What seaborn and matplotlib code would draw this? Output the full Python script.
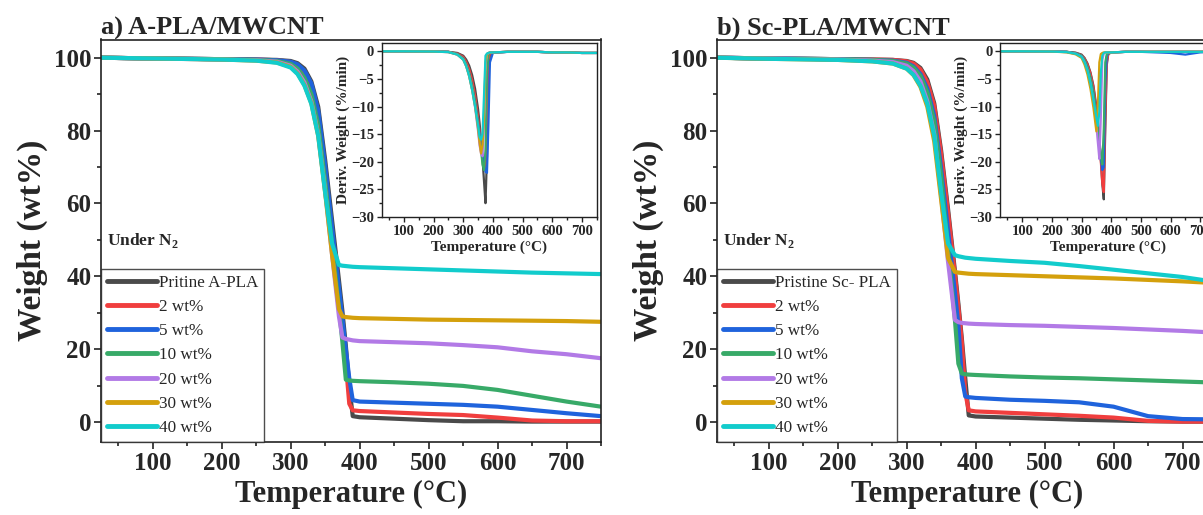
import pandas as pd
import matplotlib
matplotlib.use('Agg')
import matplotlib.pyplot as plt
import seaborn as sns
from matplotlib.lines import Line2D
from matplotlib.ticker import MultipleLocator

# TGA curves (weight %) on a shared temperature grid
T_TGA = [25, 100, 200, 250, 280, 300, 310, 320, 330, 340, 350, 360, 370, 375, 380, 385, 390, 400, 450, 500, 550, 600, 650, 700, 750]

a_pristine = [100, 99.8, 99.6, 99.5, 99.4, 99.1, 98.5, 97.0, 93.5, 86.5, 72.0, 55.5, 39.0, 30.5, 21.0, 10.0, 1.6, 1.3, 0.9, 0.5, 0.2, 0.2, 0.1, 0.1, 0.1]
a_2 = [100, 99.8, 99.6, 99.5, 99.3, 98.8, 97.9, 95.8, 91.5, 83.5, 68.0, 51.0, 34.5, 25.5, 16.0, 5.0, 3.2, 3.0, 2.6, 2.2, 1.9, 1.2, 0.4, 0.2, 0.2]
a_5 = [100, 99.8, 99.6, 99.5, 99.3, 98.9, 98.2, 96.5, 93.0, 85.5, 70.5, 53.5, 37.0, 28.5, 20.0, 12.0, 6.0, 5.6, 5.3, 5.0, 4.7, 4.2, 3.3, 2.4, 1.6]
a_10 = [100, 99.8, 99.6, 99.4, 99.1, 98.3, 97.0, 94.5, 90.0, 81.5, 66.0, 49.0, 31.5, 22.0, 11.6, 11.4, 11.3, 11.2, 10.9, 10.5, 9.9, 8.8, 7.2, 5.6, 4.2]
a_20 = [100, 99.8, 99.5, 99.3, 98.9, 97.8, 96.2, 93.2, 88.0, 79.0, 63.5, 46.0, 29.0, 23.2, 22.8, 22.6, 22.4, 22.2, 21.9, 21.6, 21.1, 20.5, 19.4, 18.6, 17.5]
a_30 = [100, 99.8, 99.5, 99.2, 98.7, 97.5, 95.7, 92.5, 87.5, 78.5, 63.0, 46.0, 31.0, 29.0, 28.8, 28.7, 28.6, 28.5, 28.3, 28.1, 28.0, 27.9, 27.8, 27.7, 27.5]
a_40 = [100, 99.8, 99.5, 99.2, 98.6, 97.3, 95.5, 92.3, 87.3, 78.5, 63.0, 49.0, 43.1, 42.9, 42.8, 42.7, 42.6, 42.5, 42.2, 41.9, 41.6, 41.3, 41.0, 40.8, 40.6]

b_pristine = [100, 99.8, 99.6, 99.5, 99.4, 99.1, 98.6, 97.2, 94.0, 87.5, 74.5, 58.5, 41.5, 32.5, 23.0, 12.0, 1.8, 1.5, 1.2, 0.9, 0.6, 0.4, 0.2, 0.1, 0.1]
b_2 = [100, 99.8, 99.6, 99.5, 99.4, 99.0, 98.4, 96.8, 93.3, 86.8, 73.5, 57.5, 40.5, 31.5, 22.0, 8.0, 3.2, 2.9, 2.5, 2.1, 1.7, 1.2, 0.3, 0.1, 0.1]
b_5 = [100, 99.8, 99.6, 99.4, 99.2, 98.6, 97.6, 95.5, 91.5, 84.0, 69.5, 52.5, 35.5, 26.5, 12.0, 7.0, 6.8, 6.6, 6.1, 5.8, 5.4, 4.2, 1.6, 0.8, 0.7]
b_10 = [100, 99.8, 99.6, 99.4, 99.1, 98.4, 97.3, 95.0, 90.5, 82.5, 67.5, 48.0, 28.0, 16.0, 13.3, 13.1, 13.0, 12.9, 12.5, 12.2, 12.0, 11.7, 11.4, 11.1, 10.8]
b_20 = [100, 99.8, 99.5, 99.2, 98.8, 97.8, 96.3, 93.5, 88.0, 79.0, 62.0, 44.0, 28.0, 27.4, 27.2, 27.1, 27.0, 26.9, 26.6, 26.4, 26.1, 25.8, 25.4, 25.0, 24.5]
b_30 = [100, 99.7, 99.4, 99.0, 98.4, 97.0, 95.2, 92.0, 86.5, 77.0, 61.0, 45.0, 41.2, 41.0, 40.9, 40.8, 40.7, 40.6, 40.3, 40.0, 39.7, 39.4, 39.0, 38.6, 38.1]
b_40 = [100, 99.7, 99.4, 99.0, 98.4, 97.0, 95.3, 92.3, 87.3, 78.5, 63.0, 49.0, 45.8, 45.5, 45.3, 45.1, 45.0, 44.8, 44.2, 43.7, 42.8, 41.8, 40.8, 39.8, 38.4]

# DTG curves (%/min) for the insets
T_DTG = [25, 100, 200, 250, 280, 300, 310, 320, 330, 340, 350, 355, 360, 365, 370, 375, 380, 385, 390, 400, 450, 500, 550, 600, 650, 700, 750]

da_pristine = [0, 0, -0.05, -0.1, -0.3, -0.8, -1.5, -2.6, -4.3, -6.8, -10.5, -13.0, -16.0, -19.5, -23.5, -27.5, -19.0, -4.0, -0.6, -0.2, -0.1, -0.1, -0.1, -0.2, -0.2, -0.3, -0.3]
da_2 = [0, 0, -0.05, -0.1, -0.4, -1.0, -1.9, -3.2, -5.2, -8.0, -12.0, -14.5, -17.0, -19.5, -20.5, -21.0, -12.0, -1.5, -0.4, -0.2, -0.1, -0.1, -0.1, -0.2, -0.2, -0.3, -0.3]
da_5 = [0, 0, -0.05, -0.1, -0.5, -1.3, -2.4, -4.0, -6.3, -9.2, -13.0, -15.0, -17.0, -19.0, -20.5, -21.8, -22.0, -13.0, -2.0, -0.3, -0.1, -0.1, -0.1, -0.2, -0.2, -0.3, -0.3]
da_10 = [0, 0, -0.05, -0.1, -0.5, -1.3, -2.4, -4.0, -6.3, -9.3, -13.2, -15.5, -18.0, -20.5, -21.5, -18.0, -4.0, -0.5, -0.3, -0.2, -0.1, -0.1, -0.1, -0.2, -0.2, -0.3, -0.3]
da_20 = [0, 0, -0.05, -0.15, -0.6, -1.5, -2.7, -4.5, -7.0, -10.2, -14.5, -17.0, -18.5, -19.0, -13.0, -2.5, -0.6, -0.3, -0.2, -0.2, -0.1, -0.1, -0.1, -0.2, -0.2, -0.3, -0.3]
da_30 = [0, 0, -0.05, -0.15, -0.6, -1.5, -2.7, -4.5, -7.0, -10.0, -14.0, -16.5, -18.5, -17.0, -12.0, -2.0, -0.5, -0.3, -0.2, -0.2, -0.1, -0.1, -0.1, -0.2, -0.2, -0.3, -0.3]
da_40 = [0, 0, -0.05, -0.15, -0.6, -1.5, -2.7, -4.5, -7.0, -10.0, -13.5, -15.5, -16.0, -15.0, -8.0, -0.8, -0.4, -0.3, -0.2, -0.2, -0.1, -0.1, -0.1, -0.2, -0.2, -0.3, -0.3]

db_pristine = [0, 0, -0.05, -0.1, -0.25, -0.6, -1.2, -2.2, -3.8, -6.2, -10.0, -12.5, -15.5, -19.5, -24.0, -26.8, -14.0, -2.5, -0.5, -0.2, -0.1, -0.1, -0.1, -0.1, -0.1, -0.1, -0.1]
db_2 = [0, 0, -0.05, -0.1, -0.3, -0.7, -1.3, -2.4, -4.0, -6.5, -10.5, -13.0, -16.0, -20.0, -24.0, -25.5, -12.0, -2.0, -0.5, -0.2, -0.1, -0.1, -0.1, -0.1, -0.1, -0.1, -0.1]
db_5 = [0, 0, -0.05, -0.1, -0.35, -0.8, -1.6, -2.9, -4.8, -7.5, -11.5, -14.0, -16.5, -19.5, -21.5, -21.0, -6.0, -1.0, -0.3, -0.2, -0.1, -0.1, -0.2, -0.3, -0.6, -0.2, -0.1]
db_10 = [0, 0, -0.05, -0.1, -0.35, -0.8, -1.6, -2.9, -4.8, -7.5, -11.5, -14.0, -16.5, -19.0, -20.5, -14.0, -2.0, -0.5, -0.3, -0.2, -0.1, -0.1, -0.1, -0.1, -0.1, -0.1, -0.1]
db_20 = [0, 0, -0.05, -0.15, -0.45, -1.0, -2.0, -3.5, -5.8, -9.0, -13.5, -16.5, -19.5, -12.0, -1.5, -0.4, -0.2, -0.2, -0.2, -0.2, -0.1, -0.1, -0.1, -0.1, -0.1, -0.1, -0.1]
db_30 = [0, 0, -0.05, -0.2, -0.55, -1.2, -2.4, -4.2, -6.8, -10.2, -14.5, -10.0, -2.0, -0.5, -0.3, -0.2, -0.2, -0.2, -0.2, -0.2, -0.1, -0.1, -0.1, -0.1, -0.1, -0.1, -0.1]
db_40 = [0, 0, -0.05, -0.15, -0.45, -1.0, -2.0, -3.5, -5.8, -8.8, -12.0, -13.5, -11.0, -4.0, -0.8, -0.3, -0.2, -0.2, -0.2, -0.2, -0.1, -0.1, -0.1, -0.1, -0.1, -0.1, -0.1]

labels_a = ['Pritine A-PLA', '2 wt%', '5 wt%', '10 wt%', '20 wt%', '30 wt%', '40 wt%']
labels_b = ['Pristine Sc- PLA', '2 wt%', '5 wt%', '10 wt%', '20 wt%', '30 wt%', '40 wt%']
colors = ['#4a4a4a', '#f03e3e', '#1f63dc', '#38aa68', '#b27ae6', '#d4a00c', '#12cccc']

tga_a = [a_pristine, a_2, a_5, a_10, a_20, a_30, a_40]
tga_b = [b_pristine, b_2, b_5, b_10, b_20, b_30, b_40]
dtg_a = [da_pristine, da_2, da_5, da_10, da_20, da_30, da_40]
dtg_b = [db_pristine, db_2, db_5, db_10, db_20, db_30, db_40]

sns.set_theme(style='ticks')
plt.rcParams['font.family'] = ['Liberation Serif', 'DejaVu Serif']
plt.rcParams['mathtext.fontset'] = 'custom'
plt.rcParams['mathtext.rm'] = 'Liberation Serif'
plt.rcParams['mathtext.bf'] = 'Liberation Serif:bold'


def long_table(temps, series):
    # one block per sample, keyed by its index so the palette order is kept
    frames = []
    for i, vals in enumerate(series):
        frames.append(pd.DataFrame({'T': temps, 'val': vals, 'sample': str(i)}))
    return pd.concat(frames, ignore_index=True)


def style_axes(ax, lab_size, major, minor, xmaj, xmin, lw):
    for s in ax.spines.values():
        s.set_color('#222222')
        s.set_linewidth(lw)
    ax.xaxis.set_major_locator(MultipleLocator(xmaj))
    ax.xaxis.set_minor_locator(MultipleLocator(xmin))
    ax.yaxis.set_major_locator(MultipleLocator(major))
    ax.yaxis.set_minor_locator(MultipleLocator(minor))
    ax.tick_params(which='both', direction='out', top=False, right=False, width=lw, color='#222222')
    ax.tick_params(which='major', length=5, labelsize=lab_size, pad=2)
    ax.tick_params(which='minor', length=3)
    for t in ax.get_xticklabels() + ax.get_yticklabels():
        t.set_fontweight('bold')


fig = plt.figure(figsize=(12.03, 5.15), dpi=100)

panels = [
    (101, 381.7, 'a) A-PLA/MWCNT', labels_a, tga_a, dtg_a),
    (717, 1000, 'b) Sc-PLA/MWCNT', labels_b, tga_b, dtg_b),
]

for left_px, inset_px, title, labels, tga, dtg in panels:
    ax = fig.add_axes([left_px / 1203, 73 / 515, 500 / 1203, 402.5 / 515])
    sns.lineplot(data=long_table(T_TGA, tga), x='T', y='val',
                 hue='sample', palette=colors, linewidth=3.0, legend=False,
                 estimator=None, sort=False, ax=ax)
    ax.set_xlim(25, 750)
    ax.set_ylim(-5.5, 105)
    ax.set_xlabel('Temperature (\u00b0C)', fontsize=22, fontweight='bold', labelpad=4)
    ax.set_ylabel('Weight (wt%)', fontsize=24, fontweight='bold', labelpad=4)
    ax.set_title(title, loc='left', fontsize=19, fontweight='bold', pad=3)
    style_axes(ax, 18, 20, 10, 100, 50, 1.2)

    handles = [Line2D([], [], color=c, lw=3.5) for c in colors]
    leg = ax.legend(handles, labels, loc='lower left', bbox_to_anchor=(0, 0),
                    borderaxespad=0, frameon=True, fancybox=False, fontsize=12.3,
                    handlelength=2.9, handletextpad=0.15, labelspacing=0.48,
                    borderpad=0.35)
    leg.get_frame().set_edgecolor('#222222')
    leg.get_frame().set_linewidth(1.0)
    ax.text(0.012, 0.50, r'Under N$_\mathbf{2}$', transform=ax.transAxes,
            fontsize=12.5, fontweight='bold', va='center', ha='left')

    ins = fig.add_axes([inset_px / 1203, 298 / 515, 215 / 1203, 174 / 515])
    sns.lineplot(data=long_table(T_DTG, dtg), x='T', y='val',
                 hue='sample', palette=colors, linewidth=1.6, legend=False,
                 estimator=None, sort=False, ax=ins)
    ins.set_xlim(25, 750)
    ins.set_ylim(-30, 1.5)
    ins.set_xlabel('Temperature (\u00b0C)', fontsize=11, fontweight='bold', labelpad=2)
    ins.set_ylabel('Deriv. Weight (%/min)', fontsize=11, fontweight='bold', labelpad=1)
    style_axes(ins, 10.5, 5, 2.5, 100, 50, 1.0)
    ins.tick_params(which='major', length=3.5)
    ins.tick_params(which='minor', length=2)

fig.savefig('out.png', dpi=100)
